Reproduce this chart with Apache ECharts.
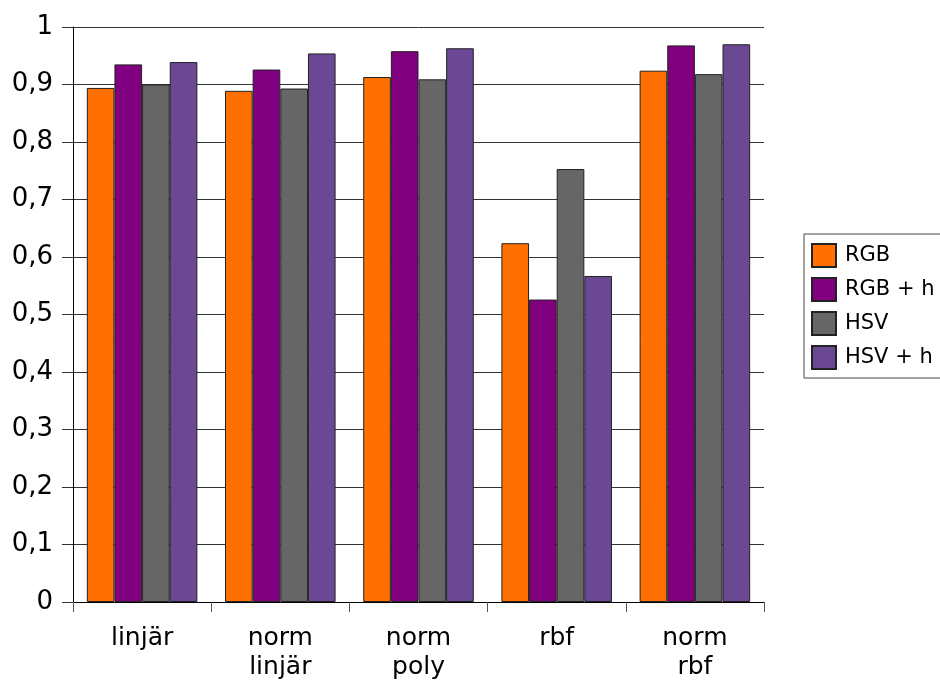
<!DOCTYPE html>
<html>
<head>
<meta charset="utf-8">
<script src="https://cdn.jsdelivr.net/npm/echarts@6/dist/echarts.min.js"></script>
<style>
  html, body { margin: 0; padding: 0; background: #ffffff; overflow: hidden; }
  #chart { width: 940px; height: 682px; }
</style>
</head>
<body>
<div id="chart"></div>
<script>
// Classification accuracy per kernel and feature set
const categories = ['linjär', 'norm\nlinjär', 'norm\npoly', 'rbf', 'norm\nrbf'];
const seriesNames = ['RGB', 'RGB + h', 'HSV', 'HSV + h'];
const rgb    = [0.894, 0.889, 0.913, 0.624, 0.924];
const rgbH   = [0.935, 0.926, 0.958, 0.526, 0.968];
const hsv    = [0.900, 0.893, 0.909, 0.753, 0.918];
const hsvH   = [0.939, 0.954, 0.963, 0.567, 0.970];
const colors = ['#ff7000', '#800080', '#666666', '#6b4894'];

const values = [rgb, rgbH, hsv, hsvH];
const font = 'DejaVu Sans';

const chart = echarts.init(document.getElementById('chart'), null, { renderer: 'canvas' });
chart.setOption({
  animation: false,
  backgroundColor: '#ffffff',
  textStyle: { fontFamily: font },
  grid: { left: 73, right: 176, top: 27, bottom: 80, containLabel: false },
  legend: {
    orient: 'vertical',
    left: 804,
    top: 234,
    padding: [9, 12, 8, 7],
    itemWidth: 24,
    itemHeight: 23,
    itemGap: 9,
    borderColor: '#444444',
    borderWidth: 1,
    icon: 'rect',
    textStyle: { fontFamily: font, fontSize: 21, color: '#000000', lineHeight: 24, padding: [0, 0, 0, 4] },
    data: seriesNames
  },
  xAxis: {
    type: 'category',
    data: categories,
    axisLine: { lineStyle: { color: '#000000', width: 1 } },
    axisTick: { show: true, length: 10, lineStyle: { color: '#555555' } },
    axisLabel: { fontFamily: font, fontSize: 25, color: '#000000', lineHeight: 29, margin: 22, interval: 0 }
  },
  yAxis: {
    type: 'value',
    min: 0,
    max: 1,
    interval: 0.1,
    axisLine: { show: true, lineStyle: { color: '#000000', width: 1 } },
    axisTick: { show: true, length: 11, lineStyle: { color: '#333333' } },
    splitLine: { show: true, lineStyle: { color: '#333333', width: 1 } },
    axisLabel: {
      fontFamily: font, fontSize: 26, color: '#000000', margin: 20,
      formatter: v => (Math.round(v * 10) / 10).toString().replace('.', ',')
    }
  },
  series: seriesNames.map((name, i) => ({
    name,
    type: 'bar',
    data: values[i],
    barGap: '0%',
    barCategoryGap: '20%',
    itemStyle: { color: colors[i], borderColor: '#222222', borderWidth: 1 }
  }))
});
</script>
</body>
</html>
